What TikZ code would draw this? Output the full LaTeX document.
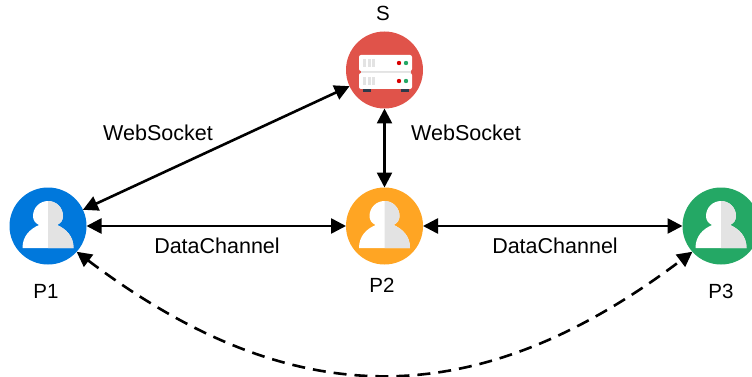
\documentclass[tikz,border=0pt]{standalone}
\usepackage{fontspec}
\setmainfont{Liberation Sans}
\usetikzlibrary{arrows.meta,calc}
\definecolor{peerblue}{HTML}{0078DC}
\definecolor{peerorange}{HTML}{FFA523}
\definecolor{peergreen}{HTML}{24A865}
\definecolor{serverred}{HTML}{E0534A}
\definecolor{icongray}{HTML}{E3E3E3}
\definecolor{footgray}{HTML}{2F3A4A}
\tikzset{
  peer/.style={circle,fill=#1,minimum size=77pt,inner sep=0pt,outer sep=0pt},
  lbl/.style={font=\fontsize{21.5}{25}\selectfont,inner sep=0pt},
  plbl/.style={font=\fontsize{20.5}{25}\selectfont,inner sep=0pt},
  link/.style={line width=2.6pt,{Triangle[length=15pt,width=15pt]}-{Triangle[length=15pt,width=15pt]}},
  pics/person/.style={code={
    \def\silhouette{(-25.5,22) .. controls (-25.5,10) and (-18,3) .. (-9,-1) .. controls (-13,-3) and (-15,-6) .. (-15,-10) arc[start angle=180,end angle=360,radius=15] .. controls (15,-6) and (13,-3) .. (9,-1) .. controls (18,3) and (25.5,10) .. (25.5,22) -- cycle}
    \fill [white] \silhouette;
    \begin{scope}
      \clip (0,-30) rectangle (30,30);
      \fill [icongray] \silhouette;
    \end{scope}
  }},
}
\begin{document}
\begin{tikzpicture}[x=1pt,y=-1pt]
\useasboundingbox (0,0) rectangle (752,377);
\node [peer=serverred] (S) at (384.5,70) {};
\node [peer=peerblue] (P1) at (48,226) {};
\node [peer=peerorange] (P2) at (384.5,226) {};
\node [peer=peergreen] (P3) at (721,226) {};
% person icons
\foreach \p in {P1,P2,P3} \pic at (\p) {person};
% server icon
\begin{scope}[shift={(S.center)}]
  \fill [footgray] (-21.5,19) rectangle (-13.5,22);
  \fill [footgray] (16.5,19) rectangle (24.5,22);
  \fill [icongray] (-24,0) rectangle (26,3);
  \foreach \y/\h in {-15/1,3/2} {
    \fill [white,rounded corners=2pt] (-25.5,\y) rectangle (27.5,\y+16);
    \foreach \x in {-21.5,-17,-12.5} \fill [icongray] (\x,\y+4) rectangle (\x+3,\y+12);
    \fill [red!85!black] (14.5,\y+8) circle (2.2);
    \fill [peergreen] (21.5,\y+8) circle (2.2);
  }
\end{scope}
\node [plbl] (lblS) at (383,13) {S};
\node [plbl] (lblP1) at (46,291) {P1};
\node [plbl] (lblP2) at (382,285) {P2};
\node [plbl] (lblP3) at (721,291) {P3};
\node [lbl] (ws1) at (158,133) {WebSocket};
\node [lbl] (ws2) at (466,133) {WebSocket};
\node [lbl] (dc1) at (217,246) {DataChannel};
\node [lbl] (dc2) at (555,246) {DataChannel};
\draw [link] (P1) -- (S);
\draw [link] (S) -- (P2);
\draw [link] (P1) -- (P2);
\draw [link] (P2) -- (P3);
\coordinate (c1) at (293,415);
\coordinate (c2) at (476,415);
\draw [link,dash pattern=on 13pt off 8pt] (P1.-42) .. controls (c1) and (c2) .. (P3.-138);
\end{tikzpicture}
\end{document}
